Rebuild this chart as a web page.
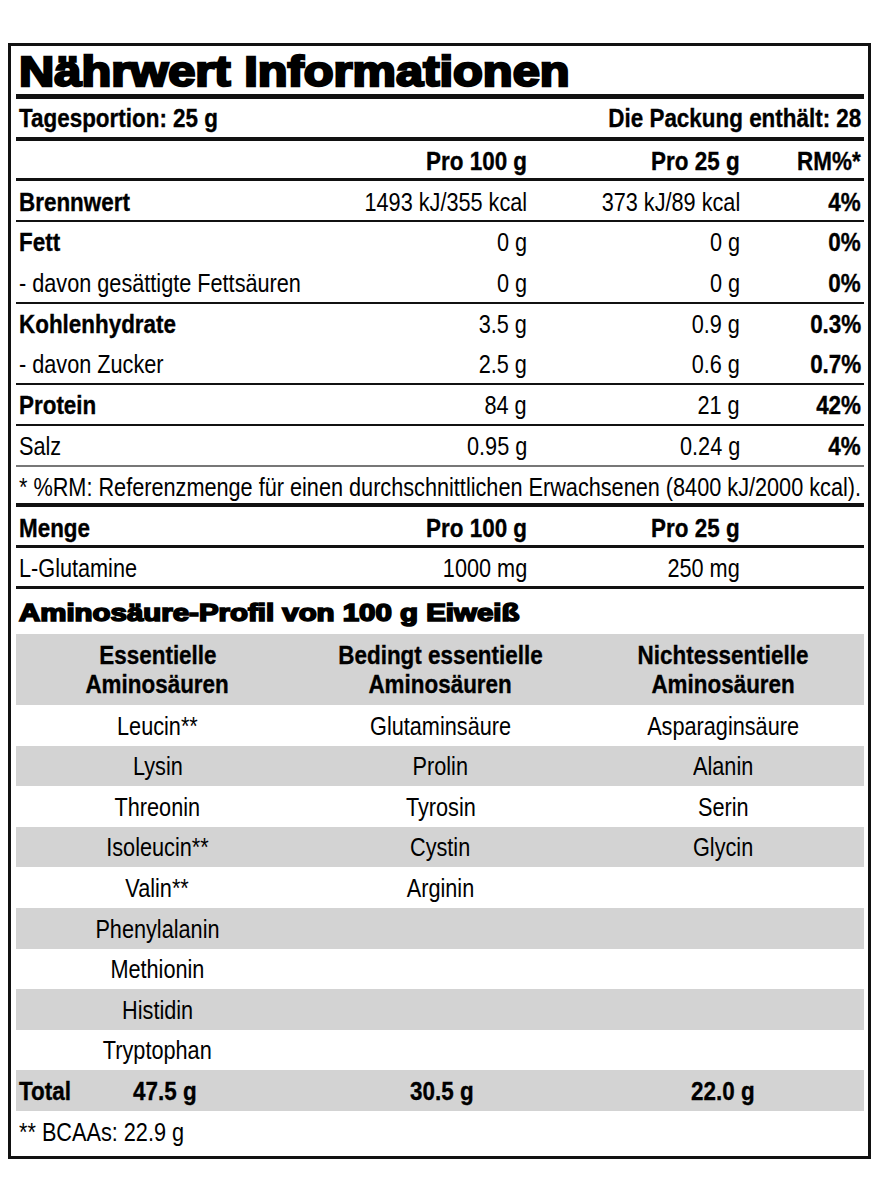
<!DOCTYPE html>
<html lang="de">
<head>
<meta charset="utf-8">
<title>Nährwert Informationen</title>
<script src="https://cdn.jsdelivr.net/npm/chart.js@4.4.1/dist/chart.umd.min.js"></script>
<style>
  html, body { margin: 0; padding: 0; background: #fff; }
  body { width: 882px; height: 1202px; position: relative; overflow: hidden; color: #000;
         font-family: "Liberation Sans", Arial, Helvetica, sans-serif; }
  #frame { position: absolute; left: 8px; top: 43px; width: 857px; height: 1110px; border: 3px solid #111; }
  .row { position: absolute; left: 16px; width: 848px; display: flex; align-items: center; }
  .cell { position: absolute; top: 0; height: 100%; display: flex; align-items: center; white-space: nowrap; }
  .t { display: inline-block; white-space: nowrap; font-size: 26px; line-height: 1; }
  .t.r { font-weight: 400; transform: scaleX(var(--kr)); }
  .t.b { font-weight: 700; transform: scaleX(var(--kb)); -webkit-text-stroke: 0.35px #000; }
  .L { justify-content: flex-start; } .L .t { transform-origin: left center; }
  .R { justify-content: flex-end; }   .R .t { transform-origin: right center; }
  .C { justify-content: center; }     .C .t { transform-origin: center center; }
  .rule { position: absolute; left: 16px; width: 848px; background: #111; }
  .gray { background: #d3d3d3; }
  .heavy { font-weight: 700; display: inline-block; white-space: nowrap; line-height: 1; transform-origin: left center; }
</style>
</head>
<body>
<div id="frame"></div>
<div id="root"></div>
<script>
// ---------------- data ----------------
const titleText = "Nährwert Informationen";
const servingText = "Tagesportion: 25 g";
const packageText = "Die Packung enthält: 28";
const nutrientHeaders = ["", "Pro 100 g", "Pro 25 g", "RM%*"];
const nutrients = ["Brennwert", "Fett", "- davon gesättigte Fettsäuren", "Kohlenhydrate", "- davon Zucker", "Protein", "Salz"];
const per100g = ["1493 kJ/355 kcal", "0 g", "0 g", "3.5 g", "2.5 g", "84 g", "0.95 g"];
const per25g = ["373 kJ/89 kcal", "0 g", "0 g", "0.9 g", "0.6 g", "21 g", "0.24 g"];
const rmPercent = ["4%", "0%", "0%", "0.3%", "0.7%", "42%", "4%"];
const footnoteText = "* %RM: Referenzmenge für einen durchschnittlichen Erwachsenen (8400 kJ/2000 kcal).";
const extraHeaders = ["Menge", "Pro 100 g", "Pro 25 g"];
const extraItems = ["L-Glutamine"];
const extraPer100g = ["1000 mg"];
const extraPer25g = ["250 mg"];
const aminoTitle = "Aminosäure-Profil von 100 g Eiweiß";
const aminoHeaders = [["Essentielle", "Aminosäuren"], ["Bedingt essentielle", "Aminosäuren"], ["Nichtessentielle", "Aminosäuren"]];
const essentialAA = ["Leucin**", "Lysin", "Threonin", "Isoleucin**", "Valin**", "Phenylalanin", "Methionin", "Histidin", "Tryptophan"];
const conditionalAA = ["Glutaminsäure", "Prolin", "Tyrosin", "Cystin", "Arginin"];
const nonEssentialAA = ["Asparaginsäure", "Alanin", "Serin", "Glycin"];
const totalLabel = "Total";
const aminoTotals = ["47.5 g", "30.5 g", "22.0 g"];
const bcaaNote = "** BCAAs: 22.9 g";

// ---------------- styling / layout ----------------
const boldNutrients = ["Brennwert", "Fett", "Kohlenhydrate", "Protein"];
const root = document.getElementById('root');

// horizontal condensing factors so the sans fonts match the condensed original
const ctx = document.createElement('canvas').getContext('2d');
ctx.font = '400 26px "Liberation Sans", Arial, sans-serif';
const kr = 842 / ctx.measureText(footnoteText).width;
ctx.font = '700 26px "Liberation Sans", Arial, sans-serif';
const kb = 253 / ctx.measureText(packageText).width;
document.documentElement.style.setProperty('--kr', kr);
document.documentElement.style.setProperty('--kb', kb);

function row(top, height, cls) {
  const d = document.createElement('div');
  d.className = 'row' + (cls ? ' ' + cls : '');
  d.style.top = top + 'px'; d.style.height = height + 'px';
  root.appendChild(d); return d;
}
function cell(parent, left, width, align, text, weight, extraStyle) {
  const c = document.createElement('div');
  c.className = 'cell ' + align;
  c.style.left = left + 'px'; c.style.width = width + 'px';
  if (extraStyle) Object.assign(c.style, extraStyle);
  const s = document.createElement('span');
  s.className = 't ' + (weight === 'b' ? 'b' : 'r');
  s.textContent = text;
  c.appendChild(s); parent.appendChild(c); return c;
}
function rule(y, h, color) {
  const d = document.createElement('div');
  d.className = 'rule'; d.style.top = y + 'px'; d.style.height = h + 'px';
  if (color) d.style.background = color;
  root.appendChild(d);
}
function heavyText(top, height, text, size, stroke, targetW) {
  const r = row(top, height);
  const s = document.createElement('span');
  s.className = 'heavy'; s.textContent = text;
  s.style.fontSize = size + 'px'; s.style.webkitTextStroke = stroke + 'px #000';
  s.style.marginLeft = '3px';
  ctx.font = '700 ' + size + 'px "Liberation Sans", Arial, sans-serif';
  const k = (targetW - stroke) / ctx.measureText(text).width;
  s.style.transform = 'scaleX(' + k + ')';
  r.appendChild(s);
}

// nutrient table columns (relative to content left at x=16)
const colLabelX = 3, col100Right = 511, col25Right = 724, colRMRight = 845;
function nutrientRow(top, h, label, a, b, c, labelW, valW, rmW) {
  const r = row(top, h);
  cell(r, colLabelX, 400, 'L', label, labelW);
  if (a !== undefined) cell(r, col100Right - 300, 300, 'R', a, valW);
  if (b !== undefined) cell(r, col25Right - 200, 200, 'R', b, valW);
  if (c !== undefined) cell(r, colRMRight - 100, 100, 'R', c, rmW);
  return r;
}

// title
heavyText(48, 48, titleText, 42, 2.4, 553);
rule(94, 5);
// serving line
{
  const r = row(99, 38);
  cell(r, colLabelX, 400, 'L', servingText, 'b');
  cell(r, 845 - 400, 400, 'R', packageText, 'b');
}
rule(137, 4);
// header
nutrientRow(142, 38, nutrientHeaders[0], nutrientHeaders[1], nutrientHeaders[2], nutrientHeaders[3], 'b', 'b', 'b');
rule(178, 3);
// nutrient rows
const nutrientTops = [182, 222, 263, 304, 344, 385, 426];
nutrients.forEach((n, i) => {
  nutrientRow(nutrientTops[i], 40, n, per100g[i], per25g[i], rmPercent[i],
              boldNutrients.includes(n) ? 'b' : 'r', 'r', 'b');
});
rule(220, 2); rule(302, 2); rule(383, 2); rule(424, 2); rule(465, 2, '#777');
// footnote
{
  const r = row(467, 40);
  cell(r, colLabelX, 845, 'L', footnoteText, 'r');
}
rule(503, 4);
nutrientRow(508, 40, extraHeaders[0], extraHeaders[1], extraHeaders[2], undefined, 'b', 'b');
rule(545, 3);
extraItems.forEach((n, i) => nutrientRow(548, 40, n, extraPer100g[i], extraPer25g[i], undefined, 'r', 'r'));
rule(586, 3);

// amino acid profile
heavyText(594, 38, aminoTitle, 23, 1.6, 502);
const colW = [283, 283, 282], colX = [0, 283, 566];
{
  const r = row(634, 71, 'gray');
  aminoHeaders.forEach((lines, j) => {
    const c = document.createElement('div');
    c.className = 'cell C';
    c.style.left = colX[j] + 'px'; c.style.width = colW[j] + 'px';
    c.style.flexDirection = 'column'; c.style.justifyContent = 'center';
    lines.forEach(t => {
      const s = document.createElement('span');
      s.className = 't b'; s.textContent = t;
      s.style.lineHeight = '29px'; s.style.transformOrigin = 'center center';
      c.appendChild(s);
    });
    r.appendChild(c);
  });
}
const aminoLists = [essentialAA, conditionalAA, nonEssentialAA];
const nRows = Math.max(...aminoLists.map(l => l.length));
const rowTop = i => 705 + Math.round(i * 40.6);
for (let i = 0; i < nRows; i++) {
  const r = row(rowTop(i), rowTop(i + 1) - rowTop(i), i % 2 === 1 ? 'gray' : '');
  aminoLists.forEach((list, j) => {
    if (list[i] !== undefined) cell(r, colX[j], colW[j], 'C', list[i], 'r');
  });
}
{
  const r = row(rowTop(nRows), rowTop(nRows + 1) - rowTop(nRows), 'gray');
  cell(r, colLabelX, 200, 'L', totalLabel, 'b');
  aminoTotals.forEach((v, j) => cell(r, colX[j] + [7, 1, 0][j], colW[j], 'C', v, 'b'));
}
{
  const r = row(rowTop(nRows + 1), rowTop(nRows + 2) - rowTop(nRows + 1));
  cell(r, colLabelX, 400, 'L', bcaaNote, 'r');
}
</script>
</body>
</html>
